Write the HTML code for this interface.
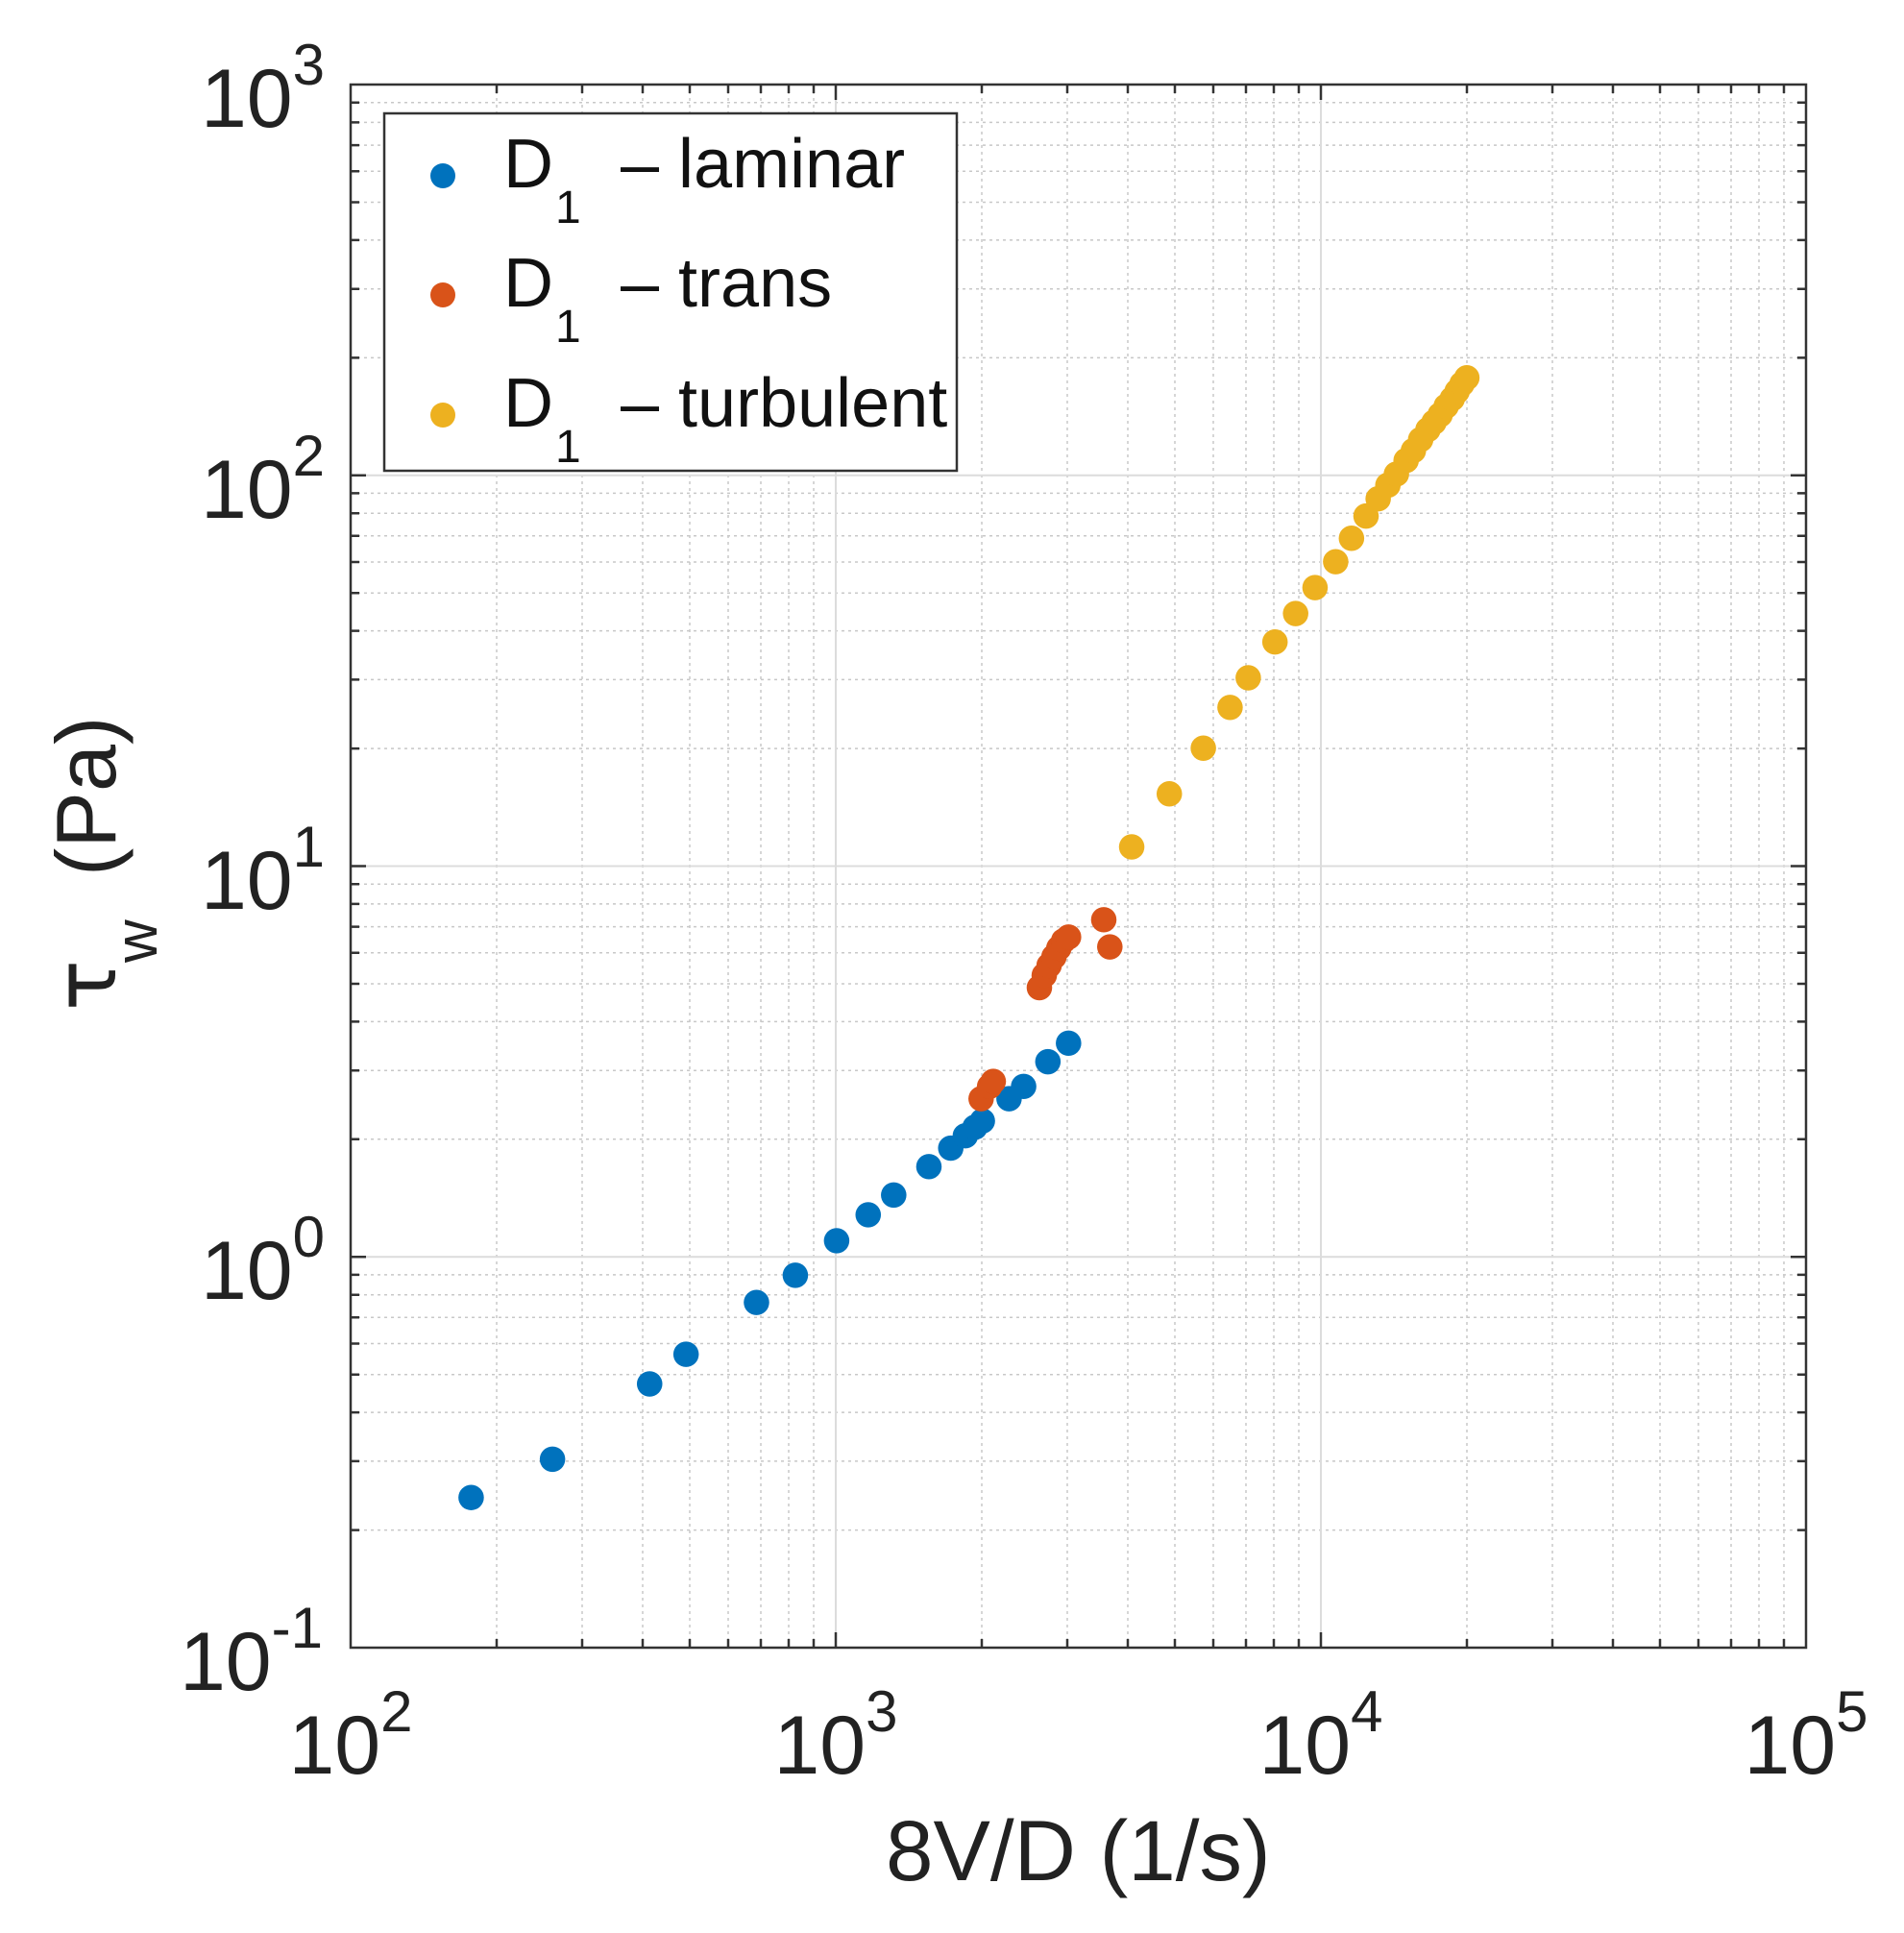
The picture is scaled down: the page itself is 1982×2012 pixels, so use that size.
<!DOCTYPE html>
<html><head><meta charset="utf-8"><style>html,body{margin:0;padding:0;background:#fff}svg{display:block}</style></head>
<body>
<svg xmlns="http://www.w3.org/2000/svg" width="1982" height="2012" viewBox="0 0 1982 2012" font-family="Liberation Sans, Arial, sans-serif">
<rect width="1982" height="2012" fill="#fff"/>
<g stroke="#c8c8c8" stroke-width="1.5" stroke-dasharray="3,4" fill="none">
<path d="M517 88V1715M606 88V1715M669 88V1715M718 88V1715M758 88V1715M792 88V1715M821 88V1715M847 88V1715M1022 88V1715M1111 88V1715M1174 88V1715M1223 88V1715M1263 88V1715M1297 88V1715M1326 88V1715M1352 88V1715M1527 88V1715M1616 88V1715M1679 88V1715M1728 88V1715M1768 88V1715M1802 88V1715M1831 88V1715M1857 88V1715"/>
<path d="M365 1592.6H1880M365 1520.9H1880M365 1470.1H1880M365 1430.7H1880M365 1398.5H1880M365 1371.3H1880M365 1347.7H1880M365 1326.9H1880M365 1185.8H1880M365 1114.2H1880M365 1063.4H1880M365 1024H1880M365 991.8H1880M365 964.6H1880M365 940.9H1880M365 920.2H1880M365 779.1H1880M365 707.4H1880M365 656.6H1880M365 617.2H1880M365 585H1880M365 557.8H1880M365 534.2H1880M365 513.4H1880M365 372.4H1880M365 300.7H1880M365 249.9H1880M365 210.5H1880M365 178.3H1880M365 151.1H1880M365 127.4H1880M365 106.7H1880"/>
</g>
<g stroke="#dcdcdc" stroke-width="2" fill="none">
<path d="M870 88V1715M1375 88V1715M365 1308.25H1880M365 901.5H1880M365 494.75H1880"/>
</g>
<g stroke="#333" stroke-width="2.5" fill="none">
<path d="M870 1715v-16M1375 1715v-16M870 88v16M1375 88v16M365 1308.25h16M365 901.5h16M365 494.75h16M1880 1308.25h-16M1880 901.5h-16M1880 494.75h-16"/>
<path d="M517 1715v-9M606 1715v-9M669 1715v-9M718 1715v-9M758 1715v-9M792 1715v-9M821 1715v-9M847 1715v-9M1022 1715v-9M1111 1715v-9M1174 1715v-9M1223 1715v-9M1263 1715v-9M1297 1715v-9M1326 1715v-9M1352 1715v-9M1527 1715v-9M1616 1715v-9M1679 1715v-9M1728 1715v-9M1768 1715v-9M1802 1715v-9M1831 1715v-9M1857 1715v-9"/>
<path d="M517 88v9M606 88v9M669 88v9M718 88v9M758 88v9M792 88v9M821 88v9M847 88v9M1022 88v9M1111 88v9M1174 88v9M1223 88v9M1263 88v9M1297 88v9M1326 88v9M1352 88v9M1527 88v9M1616 88v9M1679 88v9M1728 88v9M1768 88v9M1802 88v9M1831 88v9M1857 88v9"/>
<path d="M365 1592.6h9M365 1520.9h9M365 1470.1h9M365 1430.7h9M365 1398.5h9M365 1371.3h9M365 1347.7h9M365 1326.9h9M365 1185.8h9M365 1114.2h9M365 1063.4h9M365 1024h9M365 991.8h9M365 964.6h9M365 940.9h9M365 920.2h9M365 779.1h9M365 707.4h9M365 656.6h9M365 617.2h9M365 585h9M365 557.8h9M365 534.2h9M365 513.4h9M365 372.4h9M365 300.7h9M365 249.9h9M365 210.5h9M365 178.3h9M365 151.1h9M365 127.4h9M365 106.7h9"/>
<path d="M1880 1592.6h-9M1880 1520.9h-9M1880 1470.1h-9M1880 1430.7h-9M1880 1398.5h-9M1880 1371.3h-9M1880 1347.7h-9M1880 1326.9h-9M1880 1185.8h-9M1880 1114.2h-9M1880 1063.4h-9M1880 1024h-9M1880 991.8h-9M1880 964.6h-9M1880 940.9h-9M1880 920.2h-9M1880 779.1h-9M1880 707.4h-9M1880 656.6h-9M1880 617.2h-9M1880 585h-9M1880 557.8h-9M1880 534.2h-9M1880 513.4h-9M1880 372.4h-9M1880 300.7h-9M1880 249.9h-9M1880 210.5h-9M1880 178.3h-9M1880 151.1h-9M1880 127.4h-9M1880 106.7h-9"/>
</g>
<rect x="365" y="88" width="1515" height="1627" fill="none" stroke="#333" stroke-width="2.5"/>
<g transform="scale(1.264,1.285)">
<g fill="#0072BD">
<ellipse cx="388" cy="1213" rx="10.5" ry="10.3"/><ellipse cx="455" cy="1182" rx="10.5" ry="10.3"/><ellipse cx="535" cy="1121" rx="10.5" ry="10.3"/><ellipse cx="565" cy="1097" rx="10.5" ry="10.3"/><ellipse cx="623" cy="1055" rx="10.5" ry="10.3"/><ellipse cx="655" cy="1033" rx="10.5" ry="10.3"/><ellipse cx="689" cy="1005" rx="10.5" ry="10.3"/><ellipse cx="715" cy="984" rx="10.5" ry="10.3"/><ellipse cx="736" cy="968" rx="10.5" ry="10.3"/><ellipse cx="765" cy="945" rx="10.5" ry="10.3"/><ellipse cx="783" cy="930" rx="10.5" ry="10.3"/><ellipse cx="795" cy="920" rx="10.5" ry="10.3"/><ellipse cx="803" cy="913" rx="10.5" ry="10.3"/><ellipse cx="809" cy="908" rx="10.5" ry="10.3"/><ellipse cx="831" cy="890" rx="10.5" ry="10.3"/><ellipse cx="843" cy="880" rx="10.5" ry="10.3"/><ellipse cx="863" cy="860" rx="10.5" ry="10.3"/><ellipse cx="880" cy="845" rx="10.5" ry="10.3"/>
</g>
<g fill="#D95319">
<ellipse cx="808" cy="890" rx="10.5" ry="10.3"/><ellipse cx="815" cy="880" rx="10.5" ry="10.3"/><ellipse cx="818" cy="876" rx="10.5" ry="10.3"/><ellipse cx="856" cy="800" rx="10.5" ry="10.3"/><ellipse cx="860" cy="790" rx="10.5" ry="10.3"/><ellipse cx="864" cy="782" rx="10.5" ry="10.3"/><ellipse cx="868" cy="775" rx="10.5" ry="10.3"/><ellipse cx="872" cy="768" rx="10.5" ry="10.3"/><ellipse cx="876" cy="762" rx="10.5" ry="10.3"/><ellipse cx="880" cy="759" rx="10.5" ry="10.3"/><ellipse cx="909" cy="745" rx="10.5" ry="10.3"/><ellipse cx="914" cy="767" rx="10.5" ry="10.3"/>
</g>
<g fill="#EDB120">
<ellipse cx="932" cy="686" rx="10.5" ry="10.3"/><ellipse cx="963" cy="643" rx="10.5" ry="10.3"/><ellipse cx="991" cy="606" rx="10.5" ry="10.3"/><ellipse cx="1013" cy="573" rx="10.5" ry="10.3"/><ellipse cx="1028" cy="549" rx="10.5" ry="10.3"/><ellipse cx="1050" cy="520" rx="10.5" ry="10.3"/><ellipse cx="1067" cy="497" rx="10.5" ry="10.3"/><ellipse cx="1083" cy="476" rx="10.5" ry="10.3"/><ellipse cx="1100" cy="455" rx="10.5" ry="10.3"/><ellipse cx="1113" cy="436" rx="10.5" ry="10.3"/><ellipse cx="1125" cy="418" rx="10.5" ry="10.3"/><ellipse cx="1135" cy="404" rx="10.5" ry="10.3"/><ellipse cx="1143" cy="393" rx="10.5" ry="10.3"/><ellipse cx="1150" cy="384" rx="10.5" ry="10.3"/><ellipse cx="1158" cy="373" rx="10.5" ry="10.3"/><ellipse cx="1164" cy="365" rx="10.5" ry="10.3"/><ellipse cx="1170" cy="356" rx="10.5" ry="10.3"/><ellipse cx="1176" cy="348" rx="10.5" ry="10.3"/><ellipse cx="1181" cy="342" rx="10.5" ry="10.3"/><ellipse cx="1186" cy="336" rx="10.5" ry="10.3"/><ellipse cx="1191" cy="329" rx="10.5" ry="10.3"/><ellipse cx="1196" cy="323" rx="10.5" ry="10.3"/><ellipse cx="1200" cy="317" rx="10.5" ry="10.3"/><ellipse cx="1204" cy="311" rx="10.5" ry="10.3"/><ellipse cx="1208" cy="306" rx="10.5" ry="10.3"/>
</g>
</g>
<rect x="400" y="118" width="596" height="372" fill="#fff" stroke="#333" stroke-width="2.5"/>
<circle cx="461" cy="183" r="13" fill="#0072BD"/>
<circle cx="461" cy="307" r="13" fill="#D95319"/>
<circle cx="461" cy="432" r="13" fill="#EDB120"/>
<g font-size="72" fill="#111">
<text x="524" y="195">D<tspan font-size="48" dy="37" x="578">1</tspan><tspan dy="-37" x="646">– laminar</tspan></text>
<text x="524" y="319">D<tspan font-size="48" dy="37" x="578">1</tspan><tspan dy="-37" x="646">– trans</tspan></text>
<text x="524" y="444">D<tspan font-size="48" dy="37" x="578">1</tspan><tspan dy="-37" x="646">– turbulent</tspan></text>
</g>
<g font-size="86" fill="#222" text-anchor="end">
<text x="338" y="132">10<tspan font-size="60" dy="-44">3</tspan></text>
<text x="338" y="539">10<tspan font-size="60" dy="-44">2</tspan></text>
<text x="338" y="946">10<tspan font-size="60" dy="-44">1</tspan></text>
<text x="338" y="1352">10<tspan font-size="60" dy="-44">0</tspan></text>
<text x="336" y="1759">10<tspan font-size="60" dy="-44">-1</tspan></text>
</g>
<g font-size="86" fill="#222" text-anchor="middle">
<text x="365" y="1846">10<tspan font-size="60" dy="-44">2</tspan></text>
<text x="870" y="1846">10<tspan font-size="60" dy="-44">3</tspan></text>
<text x="1375" y="1846">10<tspan font-size="60" dy="-44">4</tspan></text>
<text x="1880" y="1846">10<tspan font-size="60" dy="-44">5</tspan></text>
</g>
<text x="922" y="1957" font-size="89" fill="#222">8V/D (1/s)</text>
<g fill="#222">
<text transform="translate(120,912) rotate(-90)" font-size="88">(Pa)</text>
<text transform="translate(163,1002) rotate(-90)" font-size="62">w</text>
<text transform="translate(120,1052) rotate(-90)" font-size="88" font-family="DejaVu Sans, sans-serif">τ</text>
</g>
</svg>
</body></html>
